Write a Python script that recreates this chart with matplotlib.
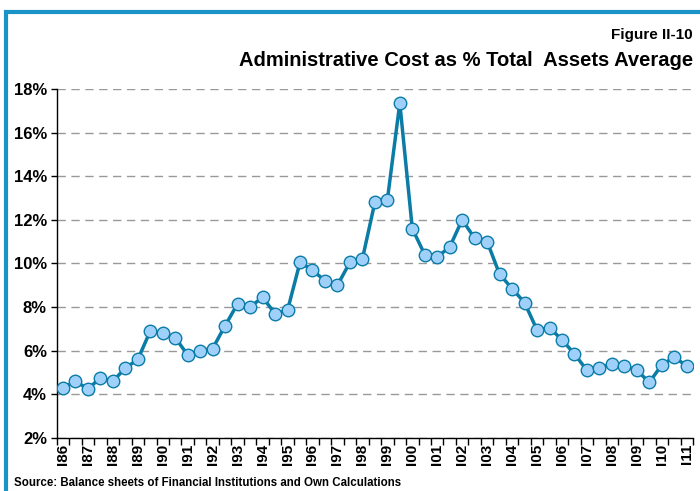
import numpy as np
import matplotlib.pyplot as plt
from matplotlib.patches import Rectangle
from matplotlib.ticker import FuncFormatter

plt.rcParams['font.family'] = ['Liberation Sans', 'DejaVu Sans']

# half-year periods I86 .. I11, labels only on the first half of each year
years = ['86', '87', '88', '89', '90', '91', '92', '93', '94', '95', '96', '97',
         '98', '99', '00', '01', '02', '03', '04', '05', '06', '07', '08', '09',
         '10', '11']
values = [4.3, 4.6, 4.25, 4.75, 4.6, 5.2, 5.6, 6.9, 6.8, 6.6,
          5.8, 6.0, 6.1, 7.15, 8.15, 8.0, 8.45, 7.7, 7.85, 10.05,
          9.7, 9.2, 9.0, 10.05, 10.2, 12.8, 12.9, 17.35, 11.6, 10.4,
          10.3, 10.75, 12.0, 11.15, 11.0, 9.5, 8.85, 8.2, 6.95, 7.05,
          6.5, 5.85, 5.1, 5.2, 5.4, 5.3, 5.1, 4.55, 5.35, 5.7, 5.3]

line_col = '#0a7ca6'
fill_col = '#9fd0fa'

fig = plt.figure(figsize=(7, 4.91), dpi=100)
ax = fig.add_axes([0.081, 0.108, 0.909, 0.711])

x = np.arange(len(values))
ax.plot(x, values, '-o', color=line_col, lw=2.5, markersize=9,
        markerfacecolor=fill_col, markeredgecolor=line_col, markeredgewidth=1.0,
        zorder=3)

ax.set_ylim(2, 18)
ax.set_yticks(np.arange(2, 19, 2))
ax.yaxis.set_major_formatter(FuncFormatter(lambda v, p: f'{v:.0f}%'))
ax.grid(axis='y', color='#999999', linestyle=(0, (6, 4)), lw=1.0)
ax.set_axisbelow(True)

ax.set_xlim(-0.5, len(values) - 0.5)
ax.set_xticks(np.arange(0, len(values), 2))
ax.set_xticklabels(['I' + y for y in years], rotation=90, fontweight='bold',
                   fontsize=11)
ax.set_xticks(np.arange(-0.5, len(values), 1), minor=True)
ax.tick_params(axis='x', which='major', length=0, pad=4)
ax.tick_params(axis='x', which='minor', length=5, width=1, direction='out')
ax.tick_params(axis='y', length=4, width=1, direction='out', pad=3)
for lab in ax.get_yticklabels():
    lab.set_fontweight('bold')
    lab.set_fontsize(12)

ax.spines['top'].set_visible(False)
ax.spines['right'].set_visible(False)
ax.spines['left'].set_linewidth(1.0)
ax.spines['bottom'].set_linewidth(1.0)

fig.text(0.99, 0.928, 'Figure II-10', ha='right', va='center',
         fontsize=11, fontweight='bold')
fig.text(0.99, 0.877, 'Administrative Cost as % Total  Assets Average',
         ha='right', va='center', fontsize=14.5, fontweight='bold')
fig.text(0.02, 0.017, 'Source: Balance sheets of Financial Institutions and Own Calculations',
         ha='left', va='center', fontsize=8.3, fontweight='bold')

# blue frame around the figure (left and top visible)
fig.patches.append(Rectangle((0.008, -0.05), 1.1, 1.026,
                             transform=fig.transFigure, fill=False,
                             edgecolor='#1a93c6', lw=3))

fig.savefig('out.png', dpi=100)
